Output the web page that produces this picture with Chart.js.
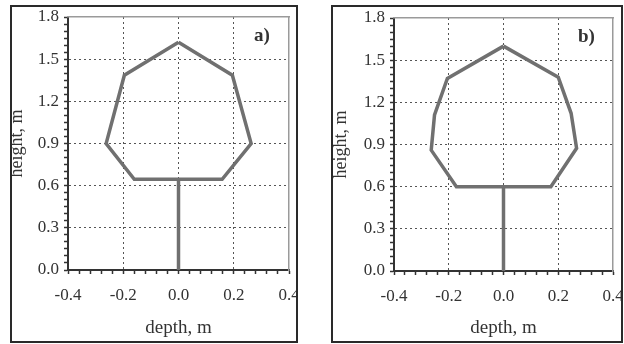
<!DOCTYPE html>
<html>
<head>
<meta charset="utf-8">
<script src="https://cdn.jsdelivr.net/npm/chart.js@4.4.1/dist/chart.umd.min.js"></script>
<style>
body{margin:0;background:#fff;width:624px;height:344px;overflow:hidden;position:relative}
.panel{position:absolute;top:5px;height:338px;border:2px solid #2a2a2a;box-sizing:border-box;overflow:hidden;background:#fff}
.panel canvas{position:absolute;left:-6px;top:0}
.tag{position:absolute;font:bold 19px "Liberation Serif",serif;color:#333;line-height:19px}
</style>
</head>
<body>
<div class="panel" style="left:10px;width:288px"><canvas id="ca" width="300" height="334"></canvas></div>
<div class="panel" style="left:331px;width:292px"><canvas id="cb" width="300" height="334"></canvas></div>
<span class="tag" style="left:254px;top:25px">a)</span>
<span class="tag" style="left:578px;top:26px">b)</span>
<script>
// crown outline and stem (depth, height in m)
const crownA_x = [0, 0.195, 0.263, 0.158, -0.16, -0.262, -0.196, 0];
const crownA_y = [1.62, 1.386, 0.9, 0.645, 0.645, 0.9, 1.386, 1.62];
const stemA_x = [0, 0];
const stemA_y = [0, 0.645];

const crownB_x = [0, 0.2, 0.247, 0.267, 0.173, -0.172, -0.264, -0.252, -0.205, 0];
const crownB_y = [1.6, 1.379, 1.122, 0.873, 0.6, 0.6, 0.86, 1.11, 1.37, 1.6];
const stemB_x = [0, 0];
const stemB_y = [0, 0.6];

const xRange = [-0.4, 0.4];
const yRange = [0, 1.8];
const xMajor = 0.2, xMinor = 0.04;
const yMajor = 0.3, yMinor = 0.05;

const FONT = '"Liberation Serif", "Times New Roman", serif';
const INK = '#333';

function toPts(xs, ys){
  return xs.map((x, i) => ({x: x, y: ys[i]}));
}
function isMajor(v, step){
  const r = Math.round(v * 100) % Math.round(step * 100);
  return r === 0;
}
function fmt(v){
  return (Math.round(v * 10) / 10).toFixed(1);
}
function gridCol(v, step, lo, hi){
  if (!isMajor(v, step)) return 'rgba(0,0,0,0)';
  if (Math.abs(v - lo) < 1e-6 || Math.abs(v - hi) < 1e-6) return 'rgba(0,0,0,0)';
  return '#555';
}

function drawPanel(id, cx, cy, sx, sy, box){
  const ctx = document.getElementById(id).getContext('2d');
  const H = 334, W = 300;
  const line = {showLine: true, pointRadius: 0, borderColor: '#707070', borderWidth: 3.5,
    borderJoinStyle: 'miter', tension: 0, fill: false};
  new Chart(ctx, {
    type: 'scatter',
    data: {
      datasets: [
        Object.assign({data: toPts(cx, cy)}, line),
        Object.assign({data: toPts(sx, sy)}, line)
      ]
    },
    options: {
      responsive: false,
      animation: false,
      layout: {padding: {top: box.top, right: W - box.right, left: 0, bottom: 0}},
      plugins: {legend: {display: false}, tooltip: {enabled: false}},
      scales: {
        x: {
          type: 'linear', position: 'bottom', min: xRange[0], max: xRange[1],
          afterFit: s => { s.height = H - box.bottom; s.paddingLeft = 0; s.paddingRight = 0; },
          ticks: {stepSize: xMinor, autoSkip: false, maxRotation: 0, minRotation: 0, padding: 11,
            color: INK, font: {family: FONT, size: 17},
            callback: v => isMajor(v, xMajor) ? fmt(v) : ''},
          grid: {color: c => gridCol(c.tick.value, xMajor, xRange[0], xRange[1]),
            lineWidth: 1, tickLength: 4, tickColor: INK, tickWidth: 1.5},
          border: {color: INK, width: 2, dash: [2, 3]},
          title: {display: true, text: 'depth, m', color: INK,
            font: {family: FONT, size: 19}, padding: {top: 0, bottom: 2}}
        },
        y: {
          type: 'linear', position: 'left', min: yRange[0], max: yRange[1],
          afterFit: s => { s.width = box.left; s.paddingTop = 0; s.paddingBottom = 0; },
          ticks: {stepSize: yMinor, autoSkip: false, padding: 5,
            color: INK, font: {family: FONT, size: 17},
            callback: v => isMajor(v, yMajor) ? fmt(v) : ''},
          grid: {color: c => gridCol(c.tick.value, yMajor, yRange[0], yRange[1]),
            lineWidth: 1, tickLength: 4, tickColor: INK, tickWidth: 1.5},
          border: {color: INK, width: 2, dash: [2, 3]},
          title: {display: true, text: 'height, m', color: INK,
            font: {family: FONT, size: 18, lineHeight: 1}, padding: {top: box.ytp, bottom: 0}}
        },
        x2: {
          type: 'linear', position: 'top', min: xRange[0], max: xRange[1],
          afterFit: s => { s.height = 0; s.paddingLeft = 0; s.paddingRight = 0; },
          ticks: {display: false}, grid: {display: false},
          border: {color: '#9a9a9a', width: 1.5}
        },
        y2: {
          type: 'linear', position: 'right', min: yRange[0], max: yRange[1],
          afterFit: s => { s.width = 0; s.paddingTop = 0; s.paddingBottom = 0; },
          ticks: {display: false}, grid: {display: false},
          border: {color: '#9a9a9a', width: 1.5}
        }
      }
    }
  });
}

drawPanel('ca', crownA_x, crownA_y, stemA_x, stemA_y, {left: 62, right: 283, top: 10, bottom: 263, ytp: 2.5});
drawPanel('cb', crownB_x, crownB_y, stemB_x, stemB_y, {left: 67, right: 286, top: 11, bottom: 264, ytp: 5});
</script>
</body>
</html>
